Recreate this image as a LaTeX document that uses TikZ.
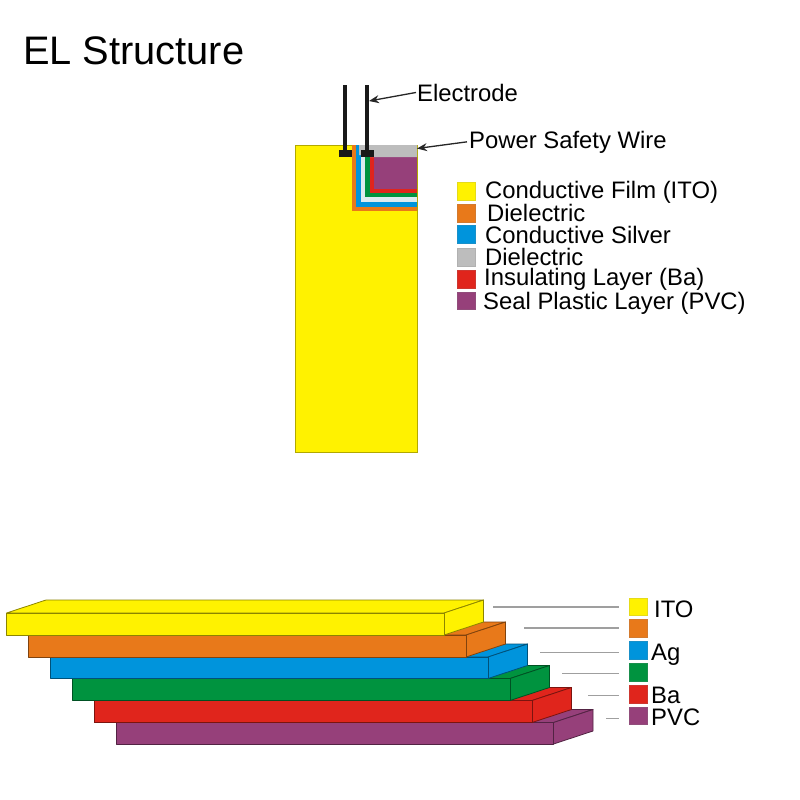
\documentclass[tikz,border=0pt]{standalone}
\usepackage{fontspec}
\setmainfont{Liberation Sans}
\usetikzlibrary{arrows.meta}
\definecolor{cyel}{HTML}{FFF200}
\definecolor{cora}{HTML}{E8791A}
\definecolor{cblu}{HTML}{0094DC}
\definecolor{cgrn}{HTML}{00933F}
\definecolor{cred}{HTML}{E0251C}
\definecolor{cpur}{HTML}{96407A}
\definecolor{cgry}{HTML}{BDBDBD}
\definecolor{cpale}{HTML}{DDEBF0}
\tikzset{
  lab/.style={anchor=base west,inner sep=0pt,font=\fontsize{23.85}{24}\selectfont,text=black},
  swatch/.style={draw=#1!80!gray,line width=.6pt,fill=#1},
  leader/.style={draw=gray!75,line width=1.2pt},
  pointer/.style={draw=black!85,line width=1.3pt,-{Stealth[length=10pt,width=8pt]}},
  wire/.style={draw=black!90,line width=3.4pt},
  pad/.style={fill=black!90},
  plate/.style={draw=#1!55!black,fill=#1,line width=.8pt,line join=round}
}
\newcommand{\slab}[5]{% colour, xleft, xfront right, ytop, ybottom
  \pgfmathsetmacro{\xr}{#3+39.5}\pgfmathsetmacro{\yu}{#4-13}\pgfmathsetmacro{\yb}{#5-13}\pgfmathsetmacro{\xl}{#2+39.5}
  \filldraw[plate=#1] (#2,#4) -- (\xl,\yu) -- (\xr,\yu) -- (#3,#4) -- cycle;
  \filldraw[plate=#1] (#3,#4) -- (\xr,\yu) -- (\xr,\yb) -- (#3,#5) -- cycle;
  \filldraw[plate=#1] (#2,#4) rectangle (#3,#5);
}
\begin{document}
\begin{tikzpicture}[x=1pt,y=-1pt]
\useasboundingbox (0,0) rectangle (800,800);
\fill[white] (0,0) rectangle (800,800);
\node[anchor=base west,inner sep=0pt,font=\fontsize{39.8}{40}\selectfont] (title) at (23,64) {EL Structure};
% top view
\filldraw[draw=cyel!70!black,line width=.5pt,fill=cyel] (295,145) rectangle (417,452);
\fill[cora] (352,145) rectangle (417,210.5);
\fill[cblu] (356,145) rectangle (417,207);
\fill[cpale] (360.5,150) rectangle (417,202);
\fill[cgrn] (365,150) rectangle (417,197);
\fill[cred] (370,150) rectangle (417,193);
\fill[cpur] (374,157) rectangle (417,188.5);
\fill[cgry] (359,145) -- (417,145) -- (417,157) -- (370,157) -- (370,155) -- (359,155) -- cycle;
\draw[wire] (345,85) -- (345,152);
\draw[wire] (367,85) -- (367,152);
\fill[pad] (339,150) rectangle (352,157);
\fill[pad] (360.5,150) rectangle (373.5,157);
\coordinate (elecTip) at (369,101);
\coordinate (wireTip) at (417,148.5);
\node[lab] (elec) at (417,101) {Electrode};
\node[lab] (psw) at (469,148) {Power Safety Wire};
\draw[pointer] (elec.west) ++(-1,0) -- (elecTip);
\draw[pointer] (psw.west) ++(-2,0) -- (wireTip);
% legend
\foreach \c/\y/\h in {cyel/182/18,cora/204/18,cblu/225.5/18,cgry/248/18,cred/270/18,cpur/292/17.5}
  \filldraw[swatch=\c] (457.5,\y) rectangle ++(18,\h);
\node[lab] (l1) at (485,198) {Conductive Film (ITO)};
\node[lab] (l2) at (487,221) {Dielectric};
\node[lab] (l3) at (485,243) {Conductive Silver};
\node[lab] (l4) at (485,265) {Dielectric};
\node[lab] (l5) at (484,285) {Insulating Layer (Ba)};
\node[lab] (l6) at (483,309) {Seal Plastic Layer (PVC)};
% exploded stack, lowest first
\slab{cpur}{116}{553.5}{722.5}{744}
\slab{cred}{94}{532}{700.5}{722.5}
\slab{cgrn}{72.5}{510}{678.5}{700.5}
\slab{cblu}{50.5}{488}{657}{678.5}
\slab{cora}{28.5}{466}{635}{657}
\slab{cyel}{6.5}{444}{613}{635}
% leaders and swatches
\foreach \c/\y/\h/\ly/\lx in {cyel/598/17.5/607/493,cora/619.5/17.5/628/524,cblu/641/18/652.5/540,cgrn/663/18/673.5/562,cred/685/18/695.5/588,cpur/707/17.5/718.5/606}{
  \filldraw[swatch=\c] (629,\y) rectangle ++(18,\h);
  \draw[leader] (\lx,\ly) -- (619,\ly);
}
\node[lab] (ito) at (654,617) {ITO};
\node[lab] (ag) at (651,660) {Ag};
\node[lab] (ba) at (651,703) {Ba};
\node[lab] (pvc) at (651,725) {PVC};
\end{tikzpicture}
\end{document}
